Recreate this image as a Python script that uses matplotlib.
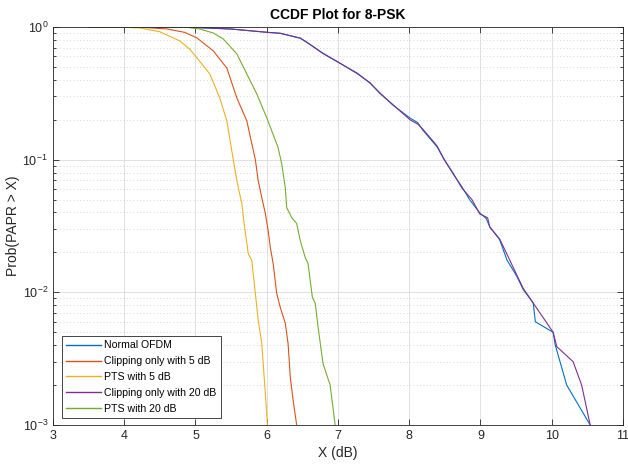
import matplotlib.pyplot as plt
import numpy as np
from matplotlib.ticker import LogLocator, NullFormatter

plt.rcParams['font.family'] = ['Liberation Sans', 'DejaVu Sans']

# Normal OFDM
ofdm_x = [3.5, 4.5, 5.02, 5.5, 6.00, 6.19, 6.47, 6.56, 6.79, 7.00, 7.27, 7.45, 7.59, 7.77,
          8.01, 8.12, 8.19, 8.39, 8.47, 8.61, 8.74, 8.85, 8.99, 9.08, 9.13, 9.27, 9.37,
          9.51, 9.60, 9.74, 9.77, 10.02, 10.05, 10.21, 10.54]
ofdm_y = [1.0, 0.999, 0.99, 0.965, 0.912, 0.897, 0.822, 0.767, 0.634, 0.543, 0.449, 0.377, 0.318, 0.258,
          0.206, 0.19, 0.167, 0.125, 0.105, 0.079, 0.0623, 0.0497, 0.0397, 0.036, 0.0312, 0.0249, 0.0176,
          0.0132, 0.0105, 0.0083, 0.006, 0.005, 0.004, 0.002, 0.001]

# Clipping only with 20 dB
clip20_x = [3.5, 4.5, 5.02, 5.5, 6.00, 6.19, 6.47, 6.56, 6.79, 7.00, 7.27, 7.45, 7.59, 7.77,
            8.01, 8.12, 8.19, 8.39, 8.49, 8.61, 8.74, 8.88, 8.99, 9.10, 9.13, 9.27, 9.40,
            9.51, 9.60, 9.74, 10.02, 10.07, 10.30, 10.42, 10.54]
clip20_y = [1.0, 0.999, 0.99, 0.965, 0.912, 0.895, 0.825, 0.77, 0.63, 0.545, 0.445, 0.38, 0.315, 0.26,
            0.2, 0.185, 0.17, 0.127, 0.1, 0.08, 0.061, 0.05, 0.039, 0.0365, 0.031, 0.0252, 0.018,
            0.0135, 0.0107, 0.0083, 0.005, 0.0039, 0.003, 0.002, 0.001]

# Clipping only with 5 dB
clip5_x = [3.5, 4.0, 4.30, 4.60, 4.85, 5.02, 5.25, 5.44, 5.58, 5.72, 5.84, 5.88, 5.93, 5.98, 6.02,
           6.05, 6.09, 6.14, 6.19, 6.26, 6.30, 6.33, 6.37, 6.42]
clip5_y = [1.0, 0.998, 0.99, 0.966, 0.91, 0.827, 0.66, 0.49, 0.292, 0.196, 0.1, 0.0695, 0.0518, 0.0393, 0.0292,
           0.0218, 0.0165, 0.0098, 0.0077, 0.00585, 0.0041, 0.0023, 0.00154, 0.001]

# PTS with 5 dB
pts5_x = [3.5, 3.9, 4.22, 4.5, 4.78, 4.92, 5.02, 5.20, 5.34, 5.44, 5.53, 5.58, 5.65, 5.69,
          5.74, 5.79, 5.84, 5.88, 5.93, 5.98, 6.01]
pts5_y = [1.0, 0.998, 0.983, 0.92, 0.785, 0.68, 0.585, 0.443, 0.292, 0.196, 0.1, 0.0695, 0.0467, 0.0308,
          0.0196, 0.0174, 0.0098, 0.0062, 0.0041, 0.00174, 0.001]

# PTS with 20 dB
pts20_x = [3.5, 4.5, 4.9, 5.06, 5.25, 5.39, 5.58, 5.72, 5.86, 6.00, 6.07, 6.16, 6.21, 6.26, 6.28, 6.35,
           6.42, 6.47, 6.54, 6.58, 6.61, 6.64, 6.68, 6.72, 6.79, 6.89, 6.96]
pts20_y = [1.0, 0.999, 0.99, 0.966, 0.9, 0.812, 0.627, 0.443, 0.313, 0.207, 0.165, 0.123, 0.093, 0.0616, 0.0435, 0.0366,
           0.033, 0.0246, 0.0183, 0.0165, 0.0123, 0.0092, 0.0083, 0.0055, 0.0029, 0.002, 0.001]

fig = plt.figure(figsize=(6.28, 4.65), dpi=100)
ax = fig.add_axes([0.0844, 0.086, 0.9076, 0.856])

lw = 0.8
ax.plot(ofdm_x, ofdm_y, color='#0072BD', lw=lw, label='Normal OFDM')
ax.plot(clip5_x, clip5_y, color='#D95319', lw=lw, label='Clipping only with 5 dB')
ax.plot(pts5_x, pts5_y, color='#EDB120', lw=lw, label='PTS with 5 dB')
ax.plot(clip20_x, clip20_y, color='#7E2F8E', lw=lw, label='Clipping only with 20 dB')
ax.plot(pts20_x, pts20_y, color='#77AC30', lw=lw, label='PTS with 20 dB')

ax.set_yscale('log')
ax.set_xlim(3, 11)
ax.set_ylim(1e-3, 1)
ax.set_xticks(np.arange(3, 12, 1))
ax.yaxis.set_minor_locator(LogLocator(base=10, subs=np.arange(2, 10)))
ax.yaxis.set_minor_formatter(NullFormatter())

ax.grid(True, which='major', color='#dcdcdc', lw=0.6, ls='-')
ax.grid(True, which='minor', axis='y', color='#cccccc', lw=0.6, ls=(0, (1, 3)))
ax.set_axisbelow(True)

ax.tick_params(which='both', direction='in', top=True, right=True, colors='#262626',
               labelsize=9, width=0.6)
ax.tick_params(which='major', length=4)
ax.tick_params(which='minor', length=2)
for s in ax.spines.values():
    s.set_color('#262626')
    s.set_linewidth(0.6)

ax.set_xlabel('X (dB)', fontsize=10, color='#262626', labelpad=3)
ax.set_ylabel('Prob(PAPR > X)', fontsize=10, color='#262626', labelpad=2)
ax.set_title('CCDF Plot for 8-PSK', fontsize=10, fontweight='bold', pad=6)

leg = ax.legend(loc='lower left', bbox_to_anchor=(0.016, 0.018), borderaxespad=0,
                fontsize=7.6, fancybox=False, edgecolor='#262626', framealpha=1,
                handlelength=3.3, labelspacing=0.55, borderpad=0.4, handletextpad=0.3)
leg.get_frame().set_linewidth(0.6)
for line in leg.get_lines():
    line.set_linewidth(1.0)

fig.savefig('out.png', dpi=100)
